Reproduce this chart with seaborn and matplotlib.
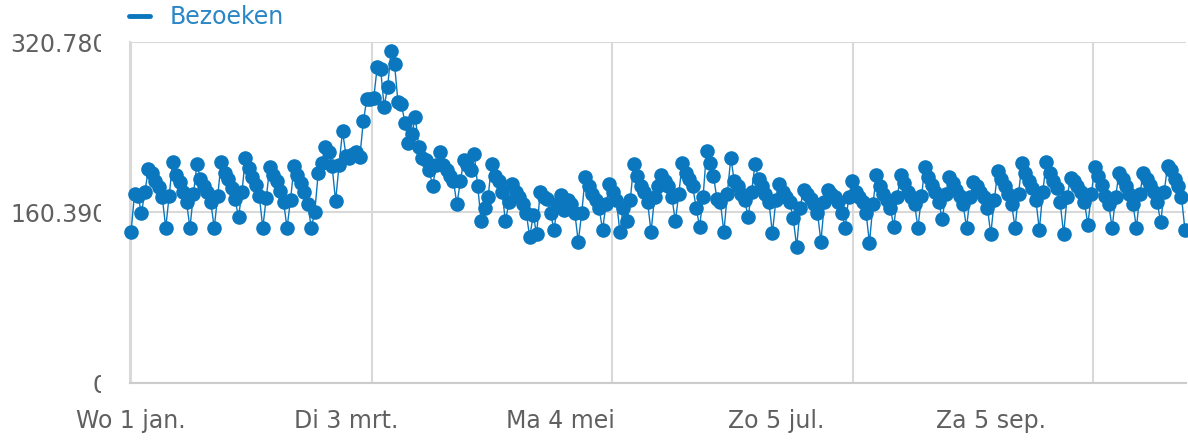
import numpy as np
import pandas as pd
import matplotlib
matplotlib.use("Agg")
import matplotlib.pyplot as plt
import matplotlib.dates as mdates
from matplotlib.transforms import Bbox, TransformedBbox
from matplotlib.lines import Line2D
import seaborn as sns

# ---------------- data ----------------
series_name = "Bezoeken"
start_date = "2020-01-01"
# daily visits, in thousands (Wed 1 Jan .. Sat 31 Oct 2020)
bezoeken_k = [
    142, 178, 176, 160, 180,                       # Jan 1-5
    201, 198, 190, 184, 175, 146, 176,             # Jan 6
    208, 196, 189, 180, 170, 146, 178,             # Jan 13
    206, 192, 185, 180, 170, 146, 176,             # Jan 20
    208, 198, 192, 183, 173, 156, 180,             # Jan 27
    212, 202, 194, 186, 176, 146, 174,             # Feb 3
    203, 196, 190, 181, 170, 146, 172,             # Feb 10
    204, 196, 188, 180, 168, 146, 161,             # Feb 17
    198, 207, 222, 217, 204, 171, 205,             # Feb 24
    237, 214, 212, 215, 217, 213, 246,             # Mar 2
    267, 267, 268, 297, 295, 260, 278,             # Mar 9
    312, 300, 264, 262, 245, 226, 234,             # Mar 16
    250, 222, 212, 210, 200, 185, 205,             # Mar 23
    217, 205, 200, 195, 190, 168, 190,             # Mar 30
    210, 205, 200, 215, 185, 152, 165,             # Apr 6
    175, 206, 195, 190, 180, 152, 170,             # Apr 13
    187, 180, 175, 168, 160, 137, 158,             # Apr 20
    140, 180, 175, 173, 160, 144, 168,             # Apr 27
    177, 163, 172, 168, 160, 133, 160,             # May 4
    194, 185, 178, 172, 165, 144, 168,             # May 11
    187, 180, 172, 142, 165, 152, 172,             # May 18
    206, 195, 185, 180, 170, 142, 175,             # May 25
    185, 196, 190, 185, 175, 152, 178,             # Jun 1
    207, 198, 192, 185, 165, 147, 175,             # Jun 8
    218, 207, 195, 173, 170, 142, 178,             # Jun 15
    212, 190, 185, 178, 172, 156, 180,             # Jun 22
    206, 192, 185, 178, 170, 141, 172,             # Jun 29
    187, 180, 175, 170, 155, 128, 165,             # Jul 6
    182, 178, 173, 168, 160, 133, 170,             # Jul 13
    182, 178, 175, 170, 160, 146, 175,             # Jul 20
    190, 180, 175, 170, 160, 132, 168,             # Jul 27
    196, 185, 178, 172, 165, 147, 175,             # Aug 3
    196, 188, 180, 175, 168, 146, 176,             # Aug 10
    203, 194, 186, 180, 170, 154, 178,             # Aug 17
    194, 188, 182, 176, 168, 146, 175,             # Aug 24
    189, 185, 180, 175, 165, 140, 172,             # Aug 31
    199, 192, 185, 178, 168, 146, 178,             # Sep 7
    207, 198, 190, 183, 172, 144, 180,             # Sep 14
    208, 198, 190, 183, 170, 140, 175,             # Sep 21
    193, 190, 185, 180, 170, 149, 178,             # Sep 28
    203, 195, 186, 176, 168, 146, 175,             # Oct 5
    198, 192, 185, 178, 168, 146, 178,             # Oct 12
    198, 192, 186, 180, 170, 151, 180,             # Oct 19
    204, 200, 192, 185, 175, 144,                  # Oct 26-31
]
y_ticks = [0, 160390, 320780]
y_tick_labels = ["0", "160.390", "320.780"]
x_label_dates = ["2020-01-01", "2020-03-03", "2020-05-04", "2020-07-05", "2020-09-05"]
x_tick_labels = ["Wo 1 jan.", "Di 3 mrt.", "Ma 4 mei", "Zo 5 jul.", "Za 5 sep."]

# ---------------- style ----------------
W, H = 1188, 440
blue = "#0a77be"
legend_blue = "#2a86c6"
grid_col = "#d9d9d9"
text_col = "#606060"
fs = 17

sns.set_style("white")
plt.rcParams["font.family"] = ["DejaVu Sans"]

df = pd.DataFrame({
    "datum": pd.date_range(start_date, periods=len(bezoeken_k), freq="D"),
    "bezoeken": np.array(bezoeken_k) * 1000,
})

fig = plt.figure(figsize=(W / 100, H / 100), dpi=100)
ax = fig.add_axes([130 / W, 57 / H, 1056 / W, 341 / H])

sns.lineplot(data=df, x="datum", y="bezoeken", ax=ax, color=blue,
             linewidth=1.0, marker="o", markersize=10.5, markeredgewidth=0,
             legend=False)
for ln in ax.get_lines():
    ln.set_clip_on(False)
    ln.set_zorder(3)

base = mdates.date2num(pd.Timestamp(start_date))
ax.set_xlim(base - 0.3, base + 304.3)
ax.set_ylim(0, 320780)

# gridlines / tick marks (major) and date labels (minor)
ax.xaxis.remove_overlapping_locs = False
grid_pos = [base + d for d in (0, 69.4, 138.8, 208.2, 277.6)]
ax.set_xticks(grid_pos)
ax.set_xticklabels([""] * len(grid_pos))
ax.set_xticks([mdates.date2num(pd.Timestamp(d)) for d in x_label_dates], minor=True)
ax.set_xticklabels(x_tick_labels, minor=True)
ax.tick_params(axis="x", which="major", length=9, width=1.5, color=grid_col,
               direction="out")
ax.tick_params(axis="x", which="minor", length=0, pad=19, labelsize=fs,
               labelcolor=text_col)

ax.set_yticks(y_ticks)
ax.set_yticklabels(y_tick_labels)
ax.tick_params(axis="y", length=0, pad=16, labelsize=fs, labelcolor=text_col)

ax.grid(True, axis="both", which="major", color=grid_col, linewidth=1.5)
ax.set_axisbelow(True)
ax.set_xlabel("")
ax.set_ylabel("")
for side in ("top", "right"):
    ax.spines[side].set_visible(False)
ax.spines["left"].set_color(grid_col)
ax.spines["left"].set_linewidth(1.5)
ax.spines["left"].set_bounds(0, 320780)
ax.spines["bottom"].set_color("#cccccc")
ax.spines["bottom"].set_linewidth(1.5)

fig.legend(handles=[Line2D([], [], color=blue, linewidth=3.5)],
           labels=[series_name], loc="center left",
           bbox_to_anchor=(129 / W, 1 - 17 / H), frameon=False,
           handlelength=0.9, handletextpad=0.8, fontsize=fs,
           labelcolor=legend_blue, borderpad=0, borderaxespad=0)

fig.canvas.draw()
clip = TransformedBbox(Bbox([[0, 0], [101 / W, 1]]), fig.transFigure)
for lab in ax.get_yticklabels():
    lab.set_clip_box(clip)
    lab.set_clip_on(True)

fig.savefig("out.png", dpi=100)
